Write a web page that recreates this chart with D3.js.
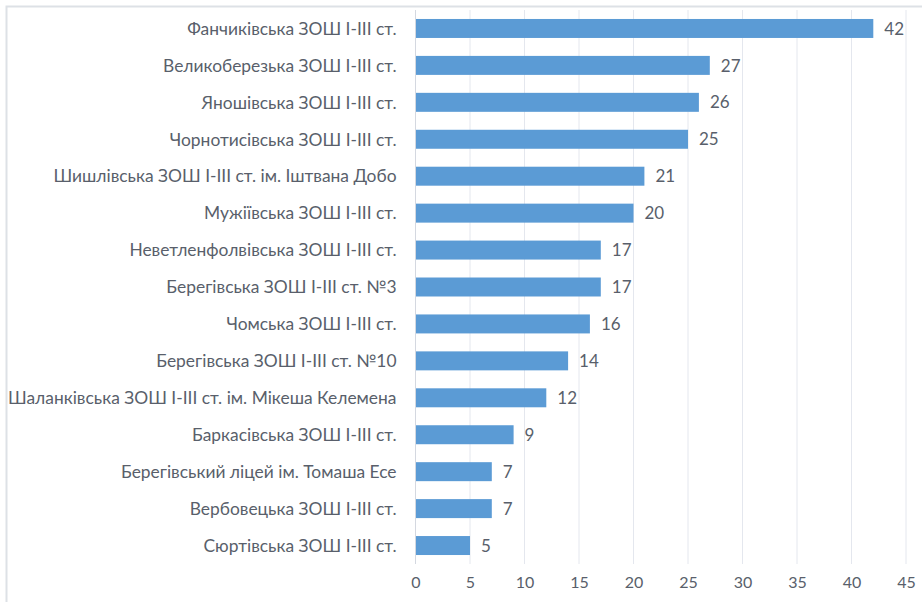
<!DOCTYPE html>
<html>
<head>
<meta charset="utf-8">
<script src="https://cdn.jsdelivr.net/npm/d3@7"></script>
<style>
body{margin:0;background:#fff;}
svg{display:block;font-family:Lato,"Open Sans",sans-serif;}
</style>
</head>
<body>
<svg id="chart" width="922" height="602"></svg>
<script>
const schools=[
    'Фанчиківська ЗОШ I-III ст.',
    'Великоберезька ЗОШ I-III ст.',
    'Яношівська ЗОШ I-III ст.',
    'Чорнотисівська ЗОШ I-III ст.',
    'Шишлівська ЗОШ I-III ст. ім. Іштвана Добо',
    'Мужіївська ЗОШ I-III ст.',
    'Неветленфолвівська ЗОШ I-III ст.',
    'Берегівська ЗОШ I-III ст. №3',
    'Чомська ЗОШ I-III ст.',
    'Берегівська ЗОШ I-III ст. №10',
    'Шаланківська ЗОШ I-III ст. ім. Мікеша Келемена',
    'Баркасівська ЗОШ I-III ст.',
    'Берегівський ліцей ім. Томаша Есе',
    'Вербовецька ЗОШ I-III ст.',
    'Сюртівська ЗОШ I-III ст.'
]
const values=[42,27,26,25,21,20,17,17,16,14,12,9,7,7,5]
const ticks=[0,5,10,15,20,25,30,35,40,45]

const svg=d3.select('#chart')
const plot={left:415.5,right:906,top:10,bot:564}

// frame of the chart area
svg.append('path')
    .attr('d','M 6.5 602 V 6.5 H 922')
    .attr('fill','none')
    .attr('stroke','#dde1e6')
    .attr('stroke-width',2)

const x=d3.scaleLinear().domain([0,45]).range([plot.left,plot.right])
const y=d3.scaleBand().domain(schools).range([plot.top,plot.bot]).paddingInner(0.486).paddingOuter(0.243)

// gridlines
svg.append('g').selectAll('line').data(ticks).join('line')
    .attr('x1',d=>x(d)).attr('x2',d=>x(d))
    .attr('y1',plot.top).attr('y2',plot.bot)
    .attr('stroke',d=>d===0?'#d4d8e0':'#e4e7ee')
    .attr('stroke-width',1)

// bars
svg.append('g').selectAll('rect').data(values).join('rect')
    .attr('x',x(0)+0.5)
    .attr('y',(d,i)=>y(schools[i]))
    .attr('width',d=>x(d)-x(0)-0.5)
    .attr('height',y.bandwidth())
    .attr('fill','#5b9bd5')

// value labels
svg.append('g').selectAll('text').data(values).join('text')
    .attr('x',d=>x(d)+11)
    .attr('y',(d,i)=>y(schools[i])+y.bandwidth()/2)
    .attr('dy','0.36em')
    .attr('font-size',17)
    .attr('fill','#595f6b')
    .text(d=>d)

// category labels
svg.append('g').selectAll('text').data(schools).join('text')
    .attr('x',plot.left-19)
    .attr('y',d=>y(d)+y.bandwidth()/2)
    .attr('dy','0.36em')
    .attr('text-anchor','end')
    .attr('font-size',17.4)
    .attr('fill','#595f6b')
    .text(d=>d)

// x axis labels
const axis=svg.append('g')
    .attr('transform',`translate(0,${plot.bot})`)
    .call(d3.axisBottom(x).tickValues(ticks).tickSize(0).tickPadding(13))
axis.select('.domain').remove()
axis.selectAll('text')
    .attr('font-size',16)
    .attr('font-family','Lato,"Open Sans",sans-serif')
    .attr('fill','#595f6b')
</script>
</body>
</html>
